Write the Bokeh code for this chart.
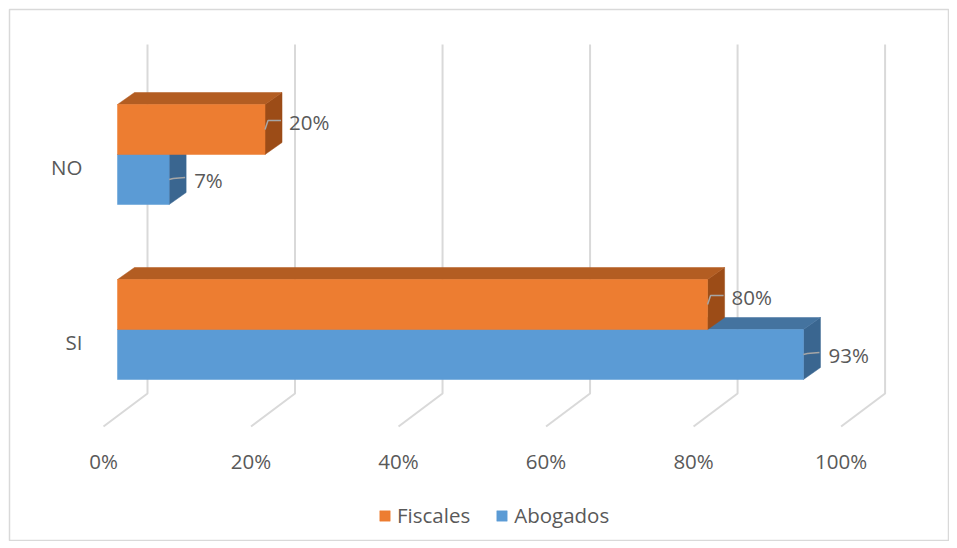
from bokeh.plotting import figure
from bokeh.models import Range1d, Legend, LegendItem, ColumnDataSource
from bokeh.core.properties import value
from bokeh.embed import file_html
from bokeh.resources import INLINE

# ---- data ----
categories = ["SI", "NO"]
fiscales = [80, 20]
abogados = [93, 7]
tick_values = [0, 20, 40, 60, 80, 100]
tick_labels = ["0%", "20%", "40%", "60%", "80%", "100%"]
series_names = ["Fiscales", "Abogados"]

# ---- style ----
FONT = "Open Sans"
FS = "20.5px"
TXT = "#595959"
GRID = "#D9D9D9"
FW, FH = 940, 532          # frame size
ML, MT = 9, 9              # outer margins
PXX = 100 / 737.6      # % per screen px
PXY = 1 / 175.0        # category units per screen px
x0 = -108 * PXX
x1 = x0 + FW * PXX
y1 = 320 * PXY
y0 = y1 - FH * PXY

p = figure(width=FW + ML, height=FH + MT, output_backend="svg", toolbar_location=None,
           x_range=Range1d(x0, x1), y_range=Range1d(y0, y1),
           min_border_left=ML, min_border_top=MT, min_border_right=0, min_border_bottom=0)
p.axis.visible = False
p.grid.visible = False
p.outline_line_color = GRID
p.outline_line_width = 1.5
p.background_fill_color = "white"
p.border_fill_color = "white"

# 3D geometry (screen px offsets)
DX, DY = 17 * PXX, 12 * PXY          # bar depth
BACK_DX = 30 * PXX                    # back wall offset
FLOOR_DX = -14 * PXX
WALL_TOP, WALL_BOT = 285 * PXY, -64 * PXY
BAR_H = 50 * PXY

# gridlines: back wall verticals + floor diagonals
gx, gy = [], []
for t in tick_values:
    gx.append([t + BACK_DX, t + BACK_DX, t + FLOOR_DX])
    gy.append([WALL_TOP, WALL_BOT, WALL_BOT - 33 * PXY])
p.multi_line(gx, gy, line_color=GRID, line_width=2)

# tick labels
p.text(x=[t + FLOOR_DX for t in tick_values], y=[-131 * PXY] * len(tick_values),
       text=tick_labels, text_font=value(FONT), text_font_size=FS,
       text_color=TXT, text_align="center", text_baseline="middle")

# category labels
p.text(x=[-35 * PXX] * len(categories), y=[i - 12 * PXY for i in range(len(categories))],
       text=categories, text_font=value(FONT), text_font_size=FS,
       text_color=TXT, text_align="right", text_baseline="middle")

colors = {
    "Abogados": ("#5B9BD5", "#44739F", "#3A6690"),
    "Fiscales": ("#ED7D31", "#B35D22", "#9C4C17"),
}

legend_items = {}
for name, vals, sign in [("Abogados", abogados, -1), ("Fiscales", fiscales, 1)]:
    front, top, side = colors[name]
    ys = list(range(len(categories)))
    if sign > 0:
        bots = [y for y in ys]
        tops = [y + BAR_H for y in ys]
    else:
        bots = [y - BAR_H for y in ys]
        tops = [y for y in ys]
    # side faces
    sx = [[v, v + DX, v + DX, v] for v in vals]
    sy = [[b, b + DY, t + DY, t] for b, t in zip(bots, tops)]
    p.patches(sx, sy, fill_color=side, line_color=side, line_width=0.5)
    # top faces
    tx = [[0, DX, v + DX, v] for v in vals]
    ty = [[t, t + DY, t + DY, t] for t in tops]
    p.patches(tx, ty, fill_color=top, line_color=top, line_width=0.5)
    # front faces
    src = ColumnDataSource(dict(left=[0] * len(vals), right=vals, top=tops, bottom=bots))
    r = p.quad(left="left", right="right", top="top", bottom="bottom", source=src,
               fill_color=front, line_color=front, line_width=0.5)
    legend_items[name] = r
    # leader lines and labels
    cys = [(b + t) / 2 for b, t in zip(bots, tops)]
    if sign > 0:
        lx = [[v, v + 3 * PXX, v + 16 * PXX] for v in vals]
        ly = [[c, c + 9 * PXY, c + 9 * PXY] for c in cys]
        lab_dx, lab_dy = 24 * PXX, 8 * PXY
    else:
        lx = [[v, v + 4 * PXX, v + 16 * PXX] for v in vals]
        ly = [[c, c + 1 * PXY, c + 2 * PXY] for c in cys]
        lab_dx, lab_dy = 25 * PXX, 0
    p.multi_line(lx, ly, line_color="#A6A6A6", line_width=1.5)
    p.text(x=[v + lab_dx for v in vals], y=[c + lab_dy for c in cys],
           text=[f"{v}%" for v in vals], text_font=value(FONT), text_font_size=FS,
           text_color=TXT, text_align="left", text_baseline="middle")

legend = Legend(items=[LegendItem(label=n, renderers=[legend_items[n]]) for n in series_names],
                orientation="horizontal", location=(369, 12),
                label_text_font=FONT, label_text_font_size=FS, label_text_color=TXT,
                glyph_width=13, glyph_height=13, label_standoff=6, spacing=25,
                padding=0, margin=0, border_line_alpha=0, background_fill_alpha=0)
p.add_layout(legend)

open("out.html", "w").write(file_html(p, INLINE))
